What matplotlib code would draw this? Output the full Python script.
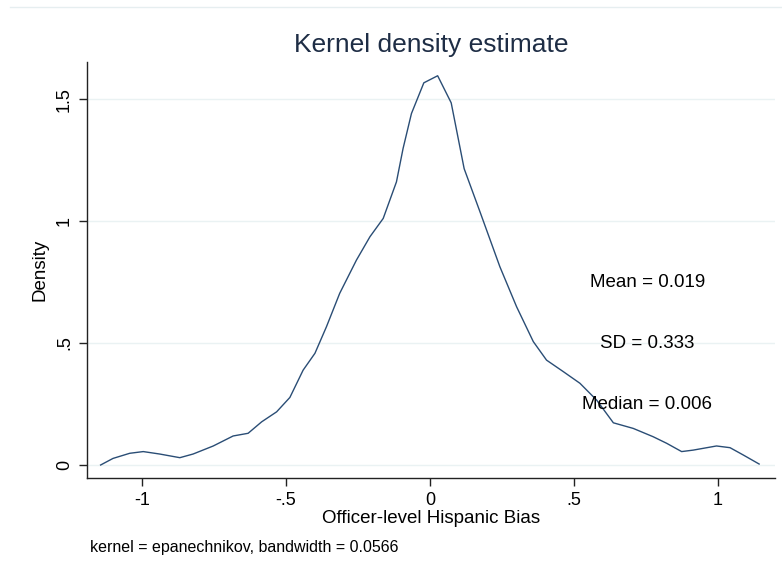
import numpy as np
import matplotlib
matplotlib.use('Agg')
import matplotlib.pyplot as plt
from matplotlib.lines import Line2D

plt.rcParams['font.family'] = ['Liberation Sans', 'DejaVu Sans']

# 曲线数据
bias_x = [-1.143, -1.100, -1.042, -0.995, -0.938, -0.868, -0.822, -0.752, -0.683,
          -0.631, -0.584, -0.532, -0.486, -0.440, -0.399, -0.359, -0.313, -0.255,
          -0.208, -0.162, -0.116, -0.093, -0.064, -0.021, 0.027, 0.074, 0.119,
          0.174, 0.243, 0.301, 0.359, 0.405, 0.463, 0.521, 0.579, 0.637, 0.706,
          0.775, 0.822, 0.874, 0.914, 0.995, 1.042, 1.088, 1.143]
density = [0.000, 0.027, 0.048, 0.055, 0.045, 0.030, 0.045, 0.078, 0.119,
           0.130, 0.177, 0.218, 0.277, 0.389, 0.458, 0.567, 0.704, 0.840,
           0.936, 1.011, 1.161, 1.298, 1.441, 1.567, 1.596, 1.485, 1.215,
           1.038, 0.813, 0.649, 0.506, 0.430, 0.383, 0.335, 0.266, 0.173, 0.150,
           0.116, 0.089, 0.055, 0.061, 0.078, 0.071, 0.041, 0.004]

x_ticks = [-1, -0.5, 0, 0.5, 1]
x_tick_labels = ['-1', '-.5', '0', '.5', '1']
y_ticks = [0, 0.5, 1, 1.5]
y_tick_labels = ['0', '.5', '1', '1.5']

stats_labels = ['Mean = 0.019', 'SD = 0.333', 'Median = 0.006']
stats_y = [0.75, 0.5, 0.25]

fig = plt.figure(figsize=(7.82, 5.75), dpi=100)
ax = fig.add_axes([0.111, 0.1687, 0.880, 0.7233])

ax.plot(bias_x, density, color='#2a4d75', lw=1.0)

ax.set_xlim(-1.191, 1.198)
ax.set_ylim(-0.0533, 1.652)

ax.set_xticks(x_ticks)
ax.set_xticklabels(x_tick_labels, fontsize=13)
ax.set_yticks(y_ticks)
ax.set_yticklabels(y_tick_labels, fontsize=13, rotation=90, va='center')

for v in y_ticks:
    ax.axhline(v, color='#eaf2f3', lw=1.0, zorder=0)

for s in ['top', 'right']:
    ax.spines[s].set_visible(False)
for s in ['left', 'bottom']:
    ax.spines[s].set_color('#222222')
    ax.spines[s].set_linewidth(1.0)
ax.tick_params(direction='out', length=6, width=1, color='#222222', pad=4)

ax.set_xlabel('Officer-level Hispanic Bias', fontsize=13.5, labelpad=1)
ax.set_ylabel('Density', fontsize=13.5, labelpad=5)
ax.set_title('Kernel density estimate', fontsize=19, color='#1e2d45', pad=7)

for lab, yy in zip(stats_labels, stats_y):
    ax.text(0.755, yy, lab, ha='center', va='center', fontsize=13.5)

fig.text(0.115, 0.048, 'kernel = epanechnikov, bandwidth = 0.0566',
         fontsize=11.5, ha='left', va='center')

# 顶部细线
fig.add_artist(Line2D([0.013, 1.0], [0.988, 0.988], transform=fig.transFigure,
                      color='#e6eef0', lw=1.0))

fig.savefig('out.png', dpi=100)
